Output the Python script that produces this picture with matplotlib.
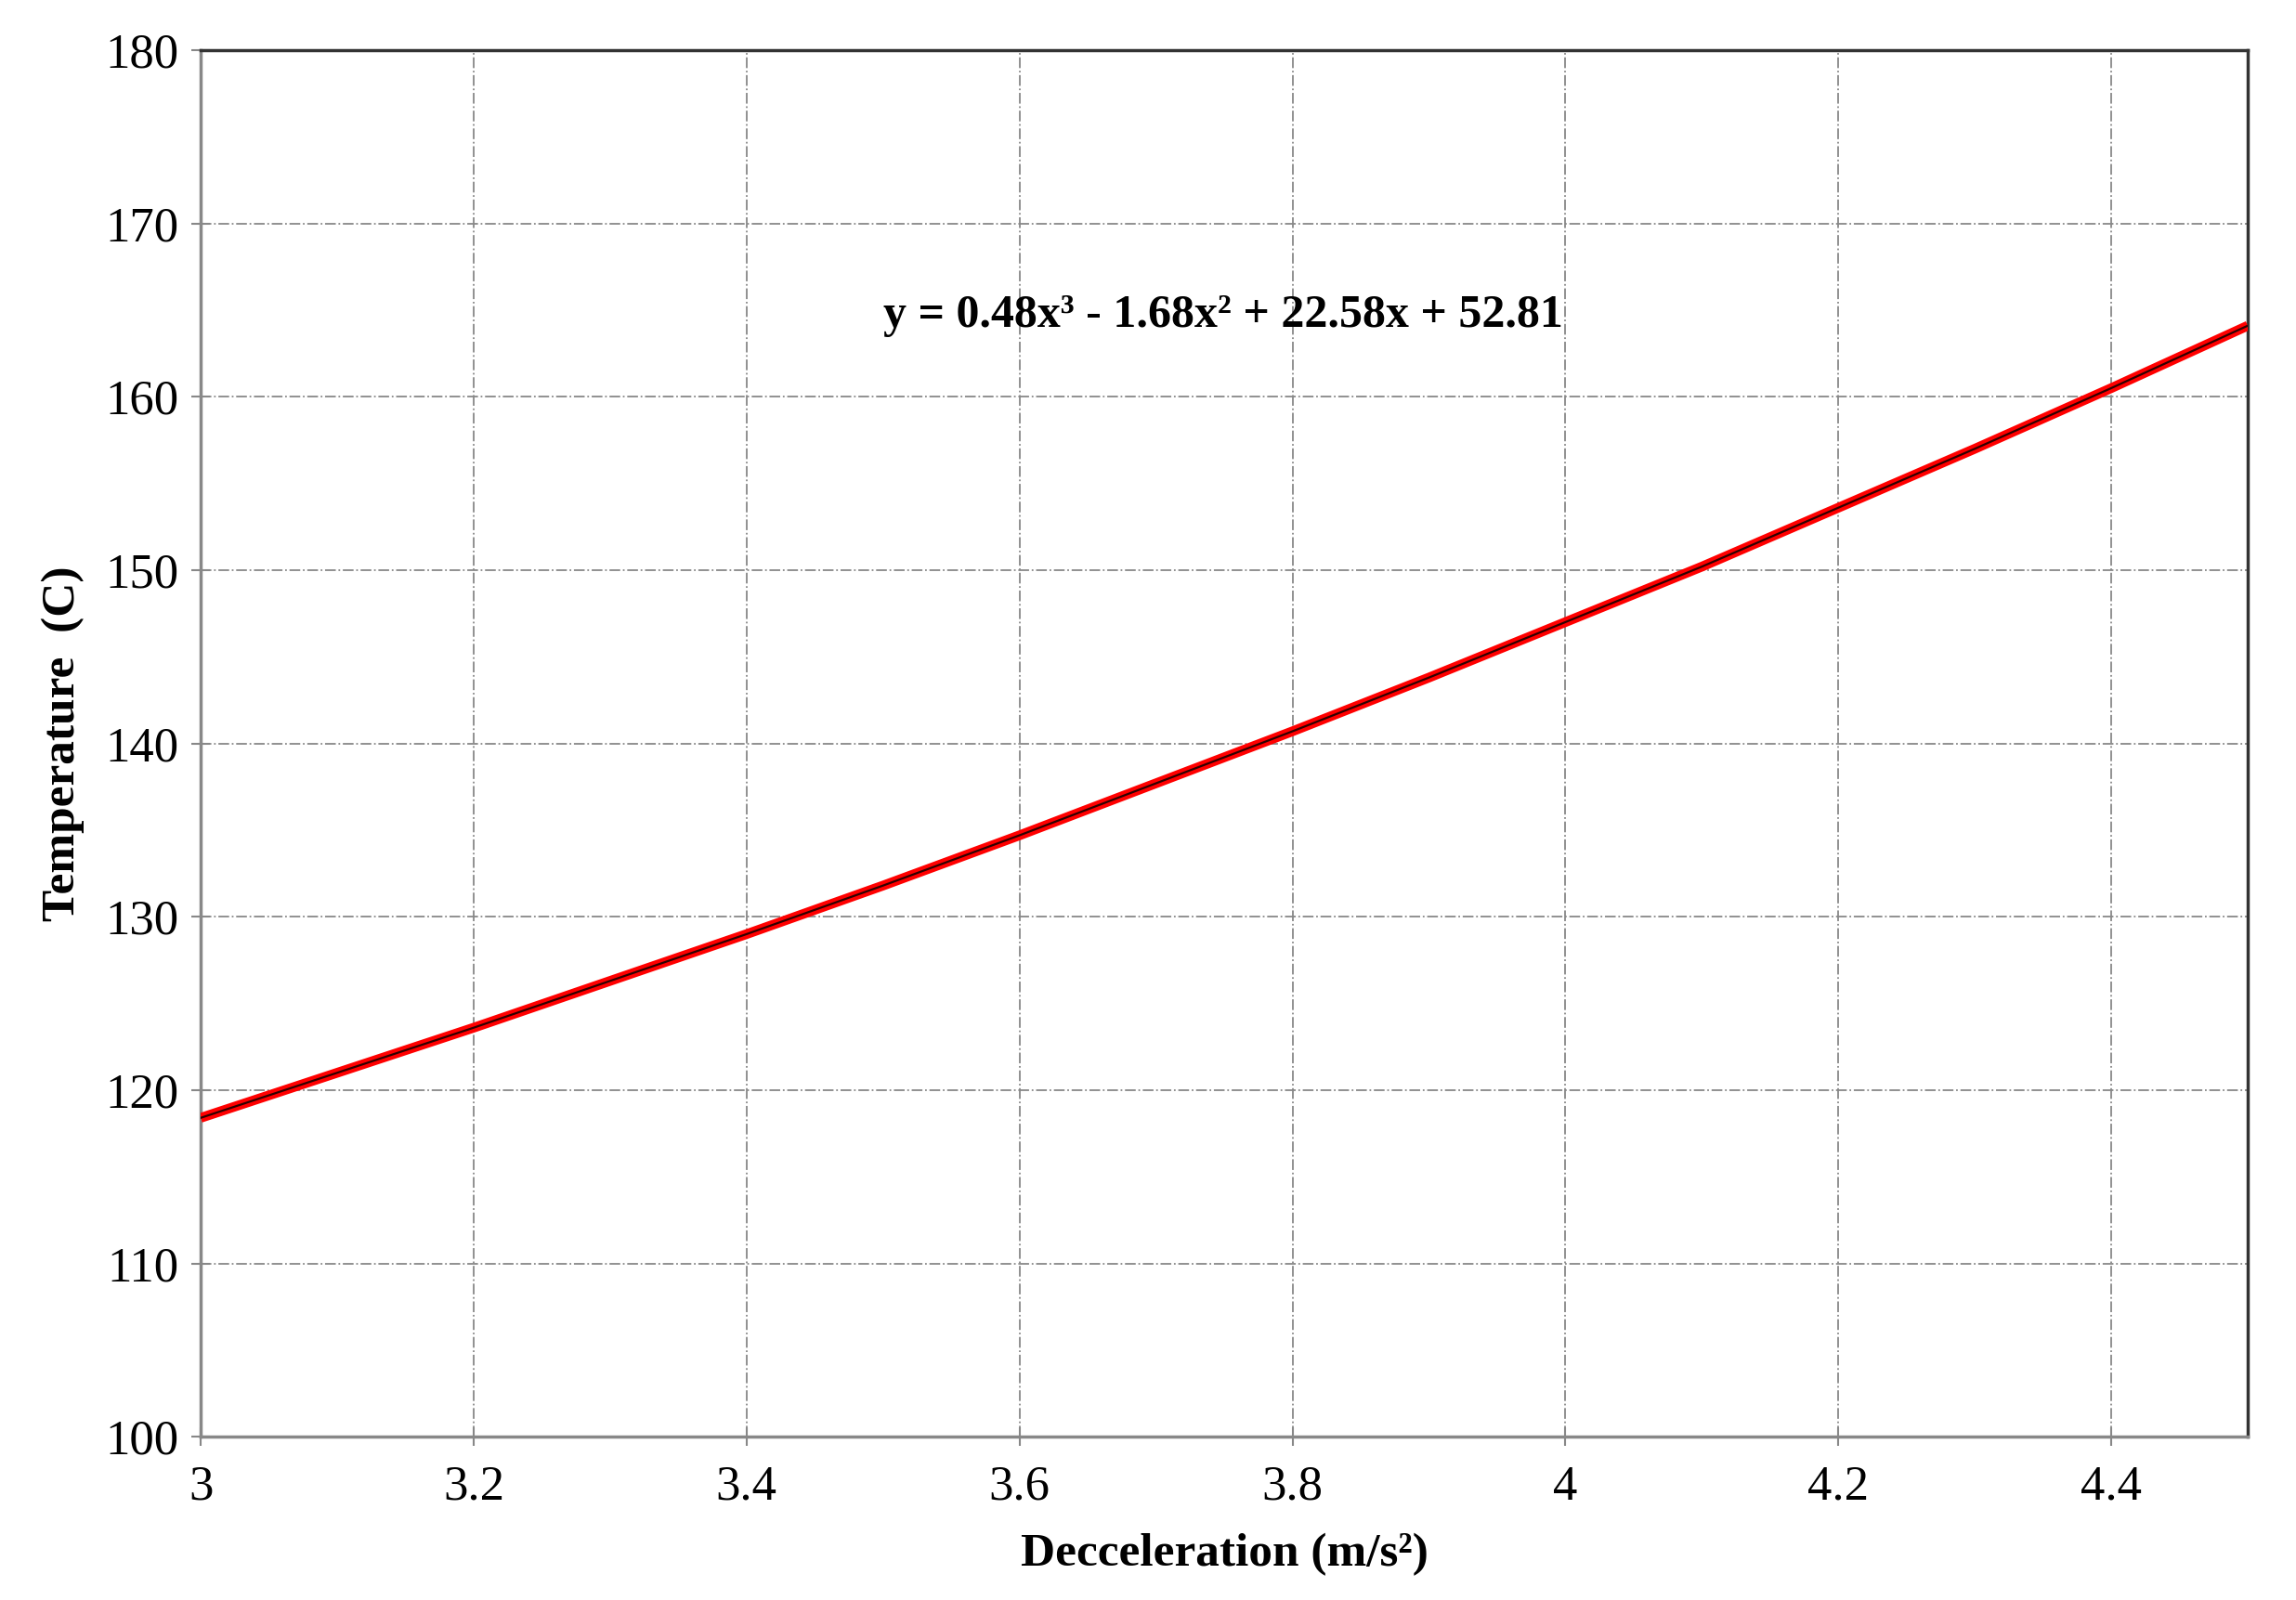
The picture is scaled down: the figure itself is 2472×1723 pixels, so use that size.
import numpy as np
import matplotlib
matplotlib.use('Agg')
import matplotlib.pyplot as plt

# values
decel = [3.0, 3.1, 3.2, 3.3, 3.4, 3.5, 3.6, 3.7, 3.8, 3.9, 4.0, 4.1, 4.2, 4.3, 4.4, 4.5]
temp = [118.4, 121.0, 123.6, 126.3, 129.0, 131.8, 134.7, 137.7, 140.7, 143.8,
        147.0, 150.2, 153.6, 157.0, 160.5, 164.1]

x_ticks = [3, 3.2, 3.4, 3.6, 3.8, 4, 4.2, 4.4]
x_ticklabels = ['3', '3.2', '3.4', '3.6', '3.8', '4', '4.2', '4.4']
y_ticks = [100, 110, 120, 130, 140, 150, 160, 170, 180]

equation = 'y = 0.48x³ - 1.68x² + 22.58x + 52.81'

plt.rcParams['font.family'] = ['Liberation Serif', 'DejaVu Serif']

fig = plt.figure(figsize=(24.72, 17.23), dpi=100)
ax = fig.add_axes([0.0874, 0.102, 0.8916, 0.8667])

# thick red line with a thin dark core
ax.plot(decel, temp, color='#ff0000', linewidth=7.5, solid_capstyle='butt', zorder=3)
ax.plot(decel, temp, color='#300000', linewidth=1.6, zorder=4)

ax.set_xlim(3, 4.5)
ax.set_ylim(100, 180)
ax.set_xticks(x_ticks)
ax.set_xticklabels(x_ticklabels)
ax.set_yticks(y_ticks)

ax.grid(True, color='#888888', linestyle='-.', linewidth=1.3)
ax.tick_params(axis='both', direction='inout', length=14, width=1.5,
               color='#888888', labelsize=38)
ax.tick_params(axis='x', pad=15)
ax.tick_params(axis='y', pad=10)

for side in ['left', 'bottom']:
    ax.spines[side].set_color('#888888')
    ax.spines[side].set_linewidth(2.5)
for side in ['top', 'right']:
    ax.spines[side].set_color('#333333')
    ax.spines[side].set_linewidth(2.5)

ax.set_xlabel('Decceleration (m/s²)', fontsize=37, fontweight='bold', labelpad=18)
ax.set_ylabel('Temperature  (C)', fontsize=37, fontweight='bold', labelpad=16)

ax.text(3.749, 164.7, equation, fontsize=36, fontweight='bold',
        ha='center', va='center')

plt.savefig('out.png', dpi=100)
